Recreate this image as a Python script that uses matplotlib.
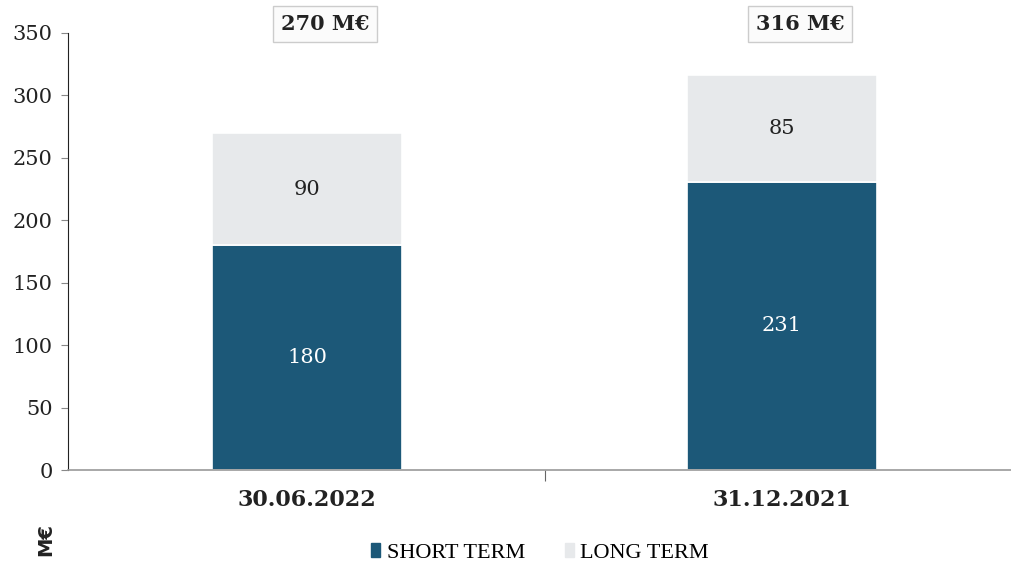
import matplotlib
matplotlib.use("Agg")
import matplotlib.pyplot as plt
from matplotlib.patches import Patch

categories = ["30.06.2022", "31.12.2021"]
short_term = [180, 231]
long_term = [90, 85]
totals = [270, 316]
total_labels = ["270 M€", "316 M€"]

dark = "#1c5878"
light = "#e7e9eb"

fig = plt.figure(figsize=(10.12, 5.66), dpi=100)
ax = fig.add_axes([68/1012, 1-470/566, (1012-68)/1012, (470-33)/566])

x = list(range(len(categories)))
ax.bar(x, short_term, width=0.4, color=dark, edgecolor="white", linewidth=1.2)
ax.bar(x, long_term, width=0.4, bottom=short_term, color=light, edgecolor="white", linewidth=1.2)

for i in x:
    ax.text(i, short_term[i]/2, str(short_term[i]), ha="center", va="center",
            color="white", fontsize=15, family="DejaVu Serif")
    ax.text(i, short_term[i] + long_term[i]/2, str(long_term[i]),
            ha="center", va="center", color="#222222", fontsize=15, family="DejaVu Serif")
    ax.text(i + 0.038, 357, total_labels[i], ha="center", va="center", fontsize=15,
            fontweight="bold", family="DejaVu Serif", color="#222222", clip_on=False,
            bbox=dict(boxstyle="square,pad=0.38", facecolor="#fbfbfb", edgecolor="#cccccc", linewidth=1))

ax.set_xlim(-0.503, 1.484)
ax.set_ylim(0, 350)
ax.set_yticks(range(0, 351, 50))
ax.set_yticklabels([str(v) for v in range(0, 351, 50)], family="DejaVu Serif", fontsize=15, color="#222222")
ax.tick_params(axis="y", length=5, color="#888888", pad=6)

ax.set_xticks([0.5])
ax.set_xticklabels([""])
ax.tick_params(axis="x", length=8, color="#666666")
for i, c in enumerate(categories):
    ax.text(i, -24, c, ha="center", va="center", fontsize=16, fontweight="bold",
            family="DejaVu Serif", color="#222222", clip_on=False)

for s in ["top", "right"]:
    ax.spines[s].set_visible(False)
ax.spines["left"].set_color("#222222")
ax.spines["bottom"].set_color("#999999")
ax.spines["bottom"].set_linewidth(1.2)

fig.text(46/1012, 1-540/566, "M€", rotation=90, ha="center", va="center", fontsize=14,
         fontweight="bold", family="DejaVu Sans", color="#222222")

handles = [Patch(facecolor=dark, edgecolor=dark), Patch(facecolor=light, edgecolor=light)]
fig.legend(handles, ["SHORT TERM", "LONG TERM"], loc="center", bbox_to_anchor=(540/1012, 1-553/566),
           ncol=2, frameon=False, prop={"family": "Liberation Serif", "size": 16},
           handlelength=0.4, handleheight=0.6, handletextpad=0.3, columnspacing=1.8)

fig.savefig("out.png", dpi=100)
